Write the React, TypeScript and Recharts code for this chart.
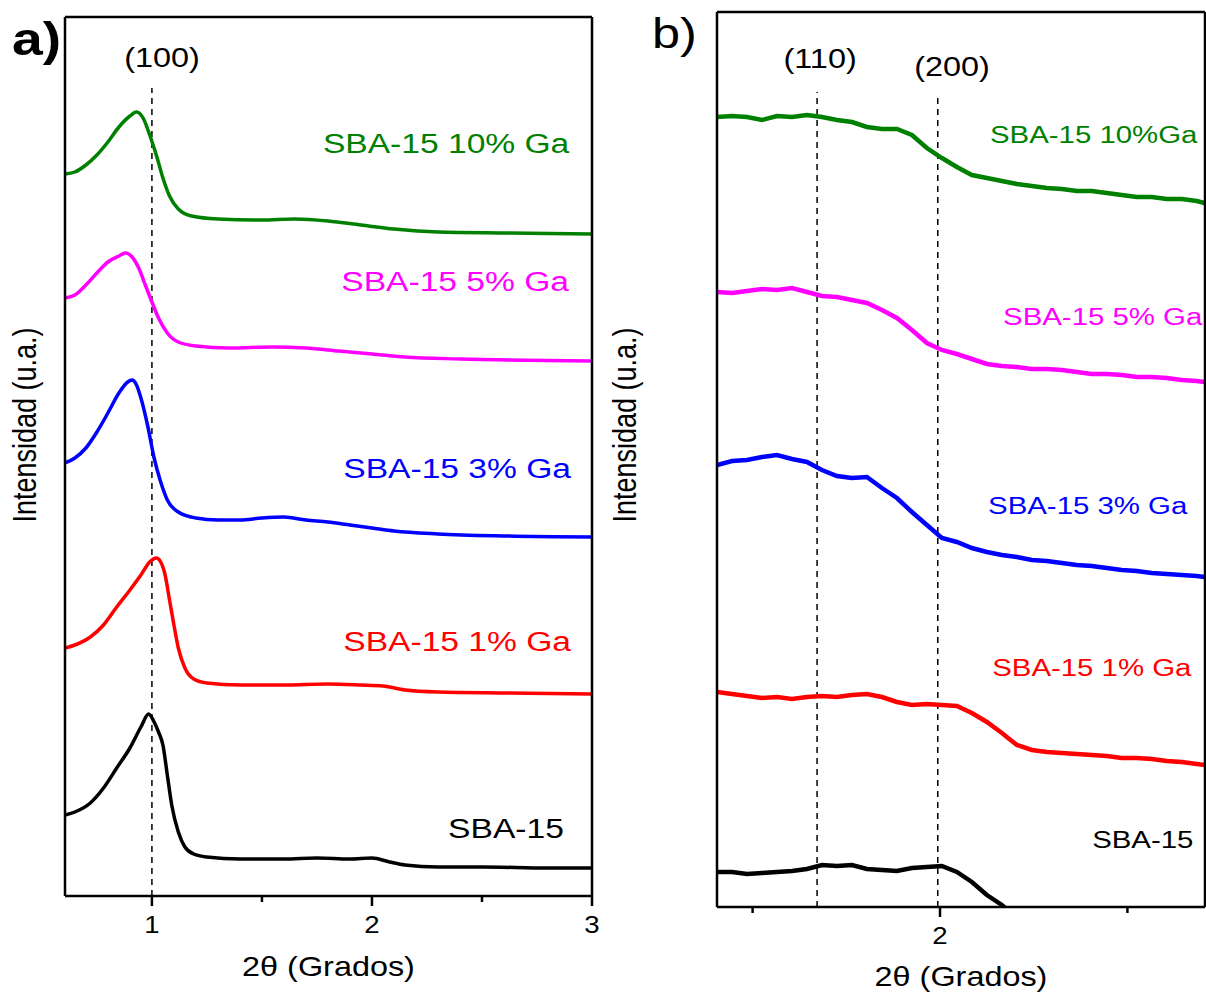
import React from 'react';
import { LineChart, Line, XAxis, YAxis, ReferenceLine, ReferenceDot, Label } from 'recharts';

const FONT = '"Liberation Sans", Arial, Helvetica, sans-serif';
// the original figure is a bit wider than tall, so text is stretched sideways
const SX = 1.2;

// ---------- panel a: 2θ vs intensity (offset curves) ----------
const a_sba15 = [
  [0.605, 81], [0.65, 84], [0.72, 93], [0.78, 108], [0.84, 128], [0.9, 148], [0.95, 169], [0.985, 182],
  [1.01, 174], [1.03, 164], [1.05, 151], [1.07, 121], [1.09, 91], [1.12, 64], [1.15, 49], [1.19, 42],
  [1.25, 39], [1.4, 37], [1.6, 37], [1.75, 38], [1.9, 37], [2.0, 38], [2.08, 34], [2.15, 31],
  [2.3, 29], [2.5, 29], [2.8, 28], [3.0, 28],
];
const a_ga1 = [
  [0.605, 248], [0.65, 251], [0.72, 259], [0.78, 271], [0.84, 289], [0.9, 306], [0.95, 321], [0.99, 334],
  [1.02, 338], [1.04, 334], [1.06, 321], [1.08, 296], [1.1, 271], [1.12, 248], [1.15, 228], [1.19, 217],
  [1.25, 213], [1.4, 211], [1.6, 211], [1.8, 212], [1.95, 211], [2.05, 210], [2.15, 206], [2.3, 204],
  [2.6, 203], [3.0, 202],
];
const a_ga3 = [
  [0.605, 433], [0.65, 438], [0.7, 448], [0.75, 464], [0.8, 483], [0.85, 503], [0.89, 514], [0.91, 516],
  [0.93, 511], [0.95, 498], [0.98, 471], [1.01, 438], [1.04, 414], [1.07, 396], [1.12, 384], [1.2, 378],
  [1.3, 376], [1.4, 376], [1.5, 378], [1.6, 379], [1.7, 376], [1.8, 374], [1.9, 371], [2.0, 368],
  [2.1, 365], [2.3, 362], [2.6, 360], [3.0, 359],
];
const a_ga5 = [
  [0.605, 598], [0.65, 601], [0.7, 611], [0.75, 623], [0.8, 634], [0.85, 640], [0.88, 643], [0.91, 639],
  [0.94, 628], [0.97, 611], [1.0, 594], [1.03, 578], [1.07, 563], [1.12, 554], [1.2, 550], [1.35, 548],
  [1.55, 549], [1.7, 548], [1.85, 545], [2.0, 542], [2.15, 539], [2.4, 537], [3.0, 535],
];
const a_ga10 = [
  [0.605, 722], [0.65, 724], [0.7, 731], [0.75, 741], [0.8, 754], [0.85, 769], [0.9, 780], [0.93, 784],
  [0.96, 778], [0.99, 761], [1.02, 741], [1.05, 718], [1.08, 700], [1.12, 687], [1.18, 680], [1.3, 677],
  [1.5, 676], [1.65, 677], [1.8, 675], [1.95, 671], [2.1, 667], [2.3, 664], [2.6, 663], [3.0, 662],
];

// ---------- panel b: zoom on the (110) / (200) region ----------
const b_x = [
  1.405, 1.445, 1.485, 1.525, 1.565, 1.605, 1.645, 1.685, 1.725, 1.765, 1.805, 1.845, 1.885, 1.925, 1.965,
  2.005, 2.045, 2.085, 2.125, 2.165, 2.205, 2.245, 2.285, 2.325, 2.365, 2.405, 2.445, 2.485, 2.525, 2.565,
  2.605, 2.645, 2.685, 2.706,
];
const b_ga10 = [
  790, 791, 790, 787, 791, 790, 792, 790, 787, 785, 780, 778, 778, 772, 759, 749, 740, 732, 729, 726,
  723, 721, 719, 718, 716, 716, 714, 712, 710, 710, 708, 708, 706, 704,
];
const b_ga5 = [
  615, 614, 616, 618, 617, 619, 615, 611, 610, 607, 604, 597, 589, 577, 564, 557, 553, 548, 543, 541,
  540, 538, 538, 537, 535, 533, 533, 532, 530, 530, 529, 527, 526, 525,
];
const b_ga3 = [
  442, 446, 447, 450, 452, 448, 445, 437, 431, 429, 430, 419, 409, 395, 382, 369, 365, 359, 355, 352,
  350, 347, 346, 344, 342, 341, 339, 337, 336, 334, 333, 332, 331, 330,
];
const b_ga1 = [
  215, 213, 211, 209, 210, 208, 210, 211, 210, 212, 213, 210, 205, 202, 203, 202, 201, 194, 185, 174,
  162, 157, 155, 154, 153, 152, 151, 149, 149, 148, 146, 145, 143, 142,
];
// the bare SBA-15 trace runs off the bottom of the frame
const b_sba15 = [
  [1.405, 35], [1.445, 35], [1.485, 33], [1.525, 34], [1.565, 35], [1.605, 36], [1.645, 38], [1.685, 42],
  [1.725, 41], [1.765, 42], [1.805, 38], [1.845, 37], [1.885, 36], [1.925, 39], [1.965, 40], [2.005, 41],
  [2.045, 35], [2.085, 25], [2.125, 12], [2.165, 2], [2.186, -5],
];

const xTicksA = [1, 1.5, 2, 2.5, 3];
const xLabelsA = [1, 2, 3];
const xTicksB = [1.5, 2, 2.5];
const xLabelsB = [2];

const seriesA = [
  { name: 'SBA-15', color: '#000000', pts: a_sba15, lx: 2.609, ly: 68 },
  { name: 'SBA-15 1% Ga', color: '#ff0000', pts: a_ga1, lx: 2.387, ly: 255 },
  { name: 'SBA-15 3% Ga', color: '#0000ff', pts: a_ga3, lx: 2.387, ly: 428 },
  { name: 'SBA-15 5% Ga', color: '#ff00ff', pts: a_ga5, lx: 2.378, ly: 615 },
  { name: 'SBA-15 10% Ga', color: '#008000', pts: a_ga10, lx: 2.337, ly: 753 },
];

const seriesB = [
  { name: 'SBA-15', color: '#000000', pts: b_sba15, lx: 2.541, ly: 68 },
  { name: 'SBA-15 1% Ga', color: '#ff0000', pts: b_x.map((x, i) => [x, b_ga1[i]]), lx: 2.405, ly: 240 },
  { name: 'SBA-15 3% Ga', color: '#0000ff', pts: b_x.map((x, i) => [x, b_ga3[i]]), lx: 2.394, ly: 402 },
  { name: 'SBA-15 5% Ga', color: '#ff00ff', pts: b_x.map((x, i) => [x, b_ga5[i]]), lx: 2.434, ly: 591 },
  { name: 'SBA-15 10%Ga', color: '#008000', pts: b_x.map((x, i) => [x, b_ga10[i]]), lx: 2.41, ly: 773 },
];

const toPts = (pts: number[][]) => pts.map(([x, y]) => ({ x, y }));

// stretched text centred on a reference dot
const centred = (text: string, color: string, size: number) => (props: any) => {
  const vb = props.viewBox || { x: 0, y: 0, width: 0, height: 0 };
  const cx = vb.x + (vb.width || 0) / 2;
  const cy = vb.y + (vb.height || 0) / 2;
  return (
    <text
      transform={`translate(${cx},${cy + size * 0.36}) scale(${SX},1)`}
      textAnchor="middle"
      fill={color}
      fontSize={size}
      fontFamily={FONT}
    >
      {text}
    </text>
  );
};

const makeTick = (labelled: number[]) => (props: any) => {
  const { x, y, payload } = props;
  const major = labelled.includes(payload.value);
  return (
    <g>
      <line x1={x} y1={y} x2={x} y2={y + (major ? 10 : 6)} stroke="#000" strokeWidth={2.5} />
      {major && (
        <text
          transform={`translate(${x},${y + 37}) scale(${SX},1)`}
          textAnchor="middle"
          fontSize={23}
          fontFamily={FONT}
          fill="#000"
        >
          {payload.value}
        </text>
      )}
    </g>
  );
};

const xTitle = (dy: number) => (props: any) => {
  const vb = props.viewBox;
  return (
    <text
      transform={`translate(${vb.x + vb.width / 2},${vb.y + dy}) scale(${SX},1)`}
      textAnchor="middle"
      fontSize={27}
      fontFamily={FONT}
      fill="#000"
    >
      2θ (Grados)
    </text>
  );
};

const yTitle = (x: number, y: number) => () => (
  <text
    transform={`translate(${x},${y}) rotate(-90) scale(1,${SX})`}
    textAnchor="middle"
    fontSize={27}
    fontFamily={FONT}
    fill="#000"
  >
    Intensidad (u.a.)
  </text>
);

const axisStroke = { stroke: '#000', strokeWidth: 2.5 };

function PanelA() {
  return (
    <LineChart width={600} height={994} margin={{ top: 16, right: 7, bottom: 38, left: 64 }}>
      <XAxis
        dataKey="x"
        type="number"
        domain={[0.605, 3]}
        ticks={xTicksA}
        interval={0}
        allowDataOverflow
        height={60}
        tickSize={0}
        tickMargin={0}
        tickLine={false}
        tick={makeTick(xLabelsA)}
        axisLine={axisStroke}
      >
        <Label content={xTitle(80)} />
      </XAxis>
      <XAxis xAxisId="top" orientation="top" dataKey="x" type="number" domain={[0.605, 3]} allowDataOverflow height={1} tick={false} tickLine={false} axisLine={axisStroke} />
      <YAxis type="number" domain={[0, 879]} allowDataOverflow width={1} tick={false} tickLine={false} axisLine={axisStroke}>
        <Label content={yTitle(36, 425)} />
      </YAxis>
      <YAxis yAxisId="right" orientation="right" type="number" domain={[0, 879]} allowDataOverflow width={1} tick={false} tickLine={false} axisLine={axisStroke} />
      <ReferenceLine segment={[{ x: 1, y: 0 }, { x: 1, y: 808 }]} stroke="#000" strokeWidth={1.5} strokeDasharray="6 5" />
      {seriesA.map((s) => (
        <Line key={s.name} data={toPts(s.pts)} dataKey="y" type="monotone" stroke={s.color} strokeWidth={3.5} dot={false} isAnimationActive={false} />
      ))}
      {seriesA.map((s) => (
        <ReferenceDot key={'l' + s.name} x={s.lx} y={s.ly} r={0.5} fill="none" stroke="none" label={centred(s.name, s.color, 28)} />
      ))}
      <ReferenceDot x={1.046} y={839} r={0.5} fill="none" stroke="none" label={centred('(100)', '#000', 27)} />
    </LineChart>
  );
}

function PanelB() {
  return (
    <LineChart width={606} height={994} margin={{ top: 11, right: 0, bottom: 27, left: 116 }}>
      <XAxis
        dataKey="x"
        type="number"
        domain={[1.405, 2.707]}
        ticks={xTicksB}
        interval={0}
        allowDataOverflow
        height={60}
        tickSize={0}
        tickMargin={0}
        tickLine={false}
        tick={makeTick(xLabelsB)}
        axisLine={axisStroke}
      >
        <Label content={xTitle(79)} />
      </XAxis>
      <XAxis xAxisId="top" orientation="top" dataKey="x" type="number" domain={[1.405, 2.707]} allowDataOverflow height={1} tick={false} tickLine={false} axisLine={axisStroke} />
      <YAxis type="number" domain={[0, 895]} allowDataOverflow width={1} tick={false} tickLine={false} axisLine={axisStroke}>
        <Label content={yTitle(36, 425)} />
      </YAxis>
      <YAxis yAxisId="right" orientation="right" type="number" domain={[0, 895]} allowDataOverflow width={1} tick={false} tickLine={false} axisLine={axisStroke} />
      <ReferenceLine segment={[{ x: 1.672, y: 0 }, { x: 1.672, y: 815 }]} stroke="#000" strokeWidth={1.5} strokeDasharray="6 5" />
      <ReferenceLine segment={[{ x: 1.994, y: 0 }, { x: 1.994, y: 810 }]} stroke="#000" strokeWidth={1.5} strokeDasharray="6 5" />
      {seriesB.map((s) => (
        <Line key={s.name} data={toPts(s.pts)} dataKey="y" type="linear" stroke={s.color} strokeWidth={4.5} dot={false} isAnimationActive={false} />
      ))}
      {seriesB.map((s) => (
        <ReferenceDot key={'l' + s.name} x={s.lx} y={s.ly} r={0.5} fill="none" stroke="none" label={centred(s.name, s.color, 24.5)} />
      ))}
      <ReferenceDot x={1.68} y={849} r={0.5} fill="none" stroke="none" label={centred('(110)', '#000', 27)} />
      <ReferenceDot x={2.032} y={841} r={0.5} fill="none" stroke="none" label={centred('(200)', '#000', 27)} />
    </LineChart>
  );
}

export default function App() {
  return (
    <div style={{ position: 'absolute', left: 0, top: 0, width: 1206, height: 994, background: '#fff', fontFamily: FONT }}>
      <div style={{ position: 'absolute', left: 0, top: 0 }}>
        <PanelA />
      </div>
      <div style={{ position: 'absolute', left: 600, top: 0 }}>
        <PanelB />
      </div>
      <div style={{ position: 'absolute', left: 12, top: 16, fontSize: 46, fontWeight: 'bold', lineHeight: 1, transform: `scaleX(${SX})`, transformOrigin: 'left top' }}>
        a)
      </div>
      <div style={{ position: 'absolute', left: 652, top: 13, fontSize: 42, lineHeight: 1, transform: `scaleX(${SX})`, transformOrigin: 'left top' }}>
        b)
      </div>
    </div>
  );
}
